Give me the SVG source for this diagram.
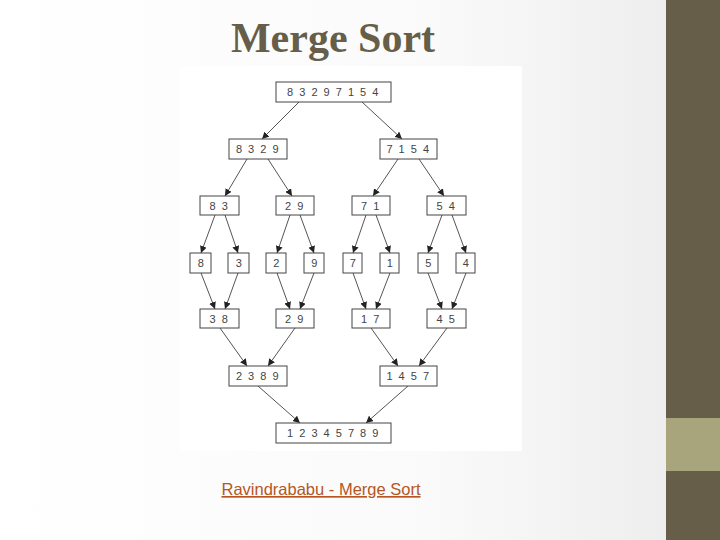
<svg xmlns="http://www.w3.org/2000/svg" width="720" height="540" viewBox="0 0 720 540">
<defs>
<linearGradient id="bg" x1="0" y1="0" x2="1" y2="0">
<stop offset="0" stop-color="#ffffff"/><stop offset="0.6" stop-color="#fafafa"/><stop offset="1" stop-color="#ebebeb"/>
</linearGradient>
<marker id="ah" viewBox="0 0 10 10" refX="10" refY="5" markerWidth="7" markerHeight="7" orient="auto" markerUnits="userSpaceOnUse">
<path d="M0,0 L10,5 L0,10 z" fill="#222"/>
</marker>
<style>
.b{fill:#fff;stroke:#444;stroke-width:1}
.t{font-family:"Liberation Sans",Arial,sans-serif;font-size:11px;fill:#444;text-anchor:middle;letter-spacing:1.5px}
#edges line{stroke:#555;stroke-width:1;marker-end:url(#ah)}
</style>
</defs>
<rect width="720" height="540" fill="url(#bg)"/>
<rect x="666" y="0" width="54" height="540" fill="#665e48"/>
<rect x="666" y="418" width="54" height="53" fill="#a8a57d"/>
<rect x="180" y="66" width="342" height="385" fill="#fff"/>
<text x="333" y="52" font-family="Liberation Serif,serif" font-weight="bold" font-size="42" fill="#665e48" text-anchor="middle">Merge Sort</text>
<text x="321" y="495" font-family="Liberation Sans,Arial,sans-serif" font-size="16.5" fill="#b5561f" text-anchor="middle" text-decoration="underline">Ravindrababu - Merge Sort</text>
<g id="edges">
<line x1="299" y1="102" x2="262" y2="139"/>
<line x1="362" y1="102" x2="402" y2="139"/>
<line x1="247" y1="159" x2="225" y2="196"/>
<line x1="268" y1="159" x2="292" y2="196"/>
<line x1="398" y1="159" x2="373" y2="196"/>
<line x1="419" y1="159" x2="444" y2="196"/>
<line x1="215" y1="215" x2="201" y2="253"/>
<line x1="225" y1="215" x2="238" y2="253"/>
<line x1="290" y1="215" x2="277" y2="253"/>
<line x1="300" y1="215" x2="314" y2="253"/>
<line x1="366" y1="215" x2="353" y2="253"/>
<line x1="376" y1="215" x2="390" y2="253"/>
<line x1="442" y1="215" x2="428" y2="253"/>
<line x1="452" y1="215" x2="466" y2="253"/>
<line x1="201" y1="273" x2="215" y2="309"/>
<line x1="238" y1="273" x2="225" y2="309"/>
<line x1="277" y1="273" x2="290" y2="309"/>
<line x1="314" y1="273" x2="300" y2="309"/>
<line x1="353" y1="273" x2="366" y2="309"/>
<line x1="390" y1="273" x2="376" y2="309"/>
<line x1="428" y1="273" x2="442" y2="309"/>
<line x1="466" y1="273" x2="452" y2="309"/>
<line x1="220" y1="328" x2="247" y2="366"/>
<line x1="295" y1="328" x2="268" y2="366"/>
<line x1="371" y1="328" x2="398" y2="366"/>
<line x1="447" y1="328" x2="419" y2="366"/>
<line x1="258" y1="386" x2="300" y2="423"/>
<line x1="408" y1="386" x2="366" y2="423"/>
</g>
<g id="n0"><rect class="b" x="276" y="82" width="115" height="20"/><text class="t" x="333.5" y="96">8 3 2 9 7 1 5 4</text></g>
<g id="n1"><rect class="b" x="229" y="139" width="58" height="20"/><text class="t" x="258" y="153">8 3 2 9</text></g>
<g id="n2"><rect class="b" x="380" y="139" width="57" height="20"/><text class="t" x="408.5" y="153">7 1 5 4</text></g>
<g id="n3"><rect class="b" x="200" y="196" width="39" height="19"/><text class="t" x="219.5" y="209.5">8 3</text></g>
<g id="n4"><rect class="b" x="276" y="196" width="38" height="19"/><text class="t" x="295" y="209.5">2 9</text></g>
<g id="n5"><rect class="b" x="352" y="196" width="38" height="19"/><text class="t" x="371" y="209.5">7 1</text></g>
<g id="n6"><rect class="b" x="427" y="196" width="39" height="19"/><text class="t" x="446.5" y="209.5">5 4</text></g>
<g id="n7"><rect class="b" x="190" y="253" width="21" height="20"/><text class="t" x="201.5" y="267">8</text></g>
<g id="n8"><rect class="b" x="228" y="253" width="21" height="20"/><text class="t" x="239.5" y="267">3</text></g>
<g id="n9"><rect class="b" x="266" y="253" width="20" height="20"/><text class="t" x="277" y="267">2</text></g>
<g id="n10"><rect class="b" x="304" y="253" width="20" height="20"/><text class="t" x="315" y="267">9</text></g>
<g id="n11"><rect class="b" x="343" y="253" width="19" height="20"/><text class="t" x="353.5" y="267">7</text></g>
<g id="n12"><rect class="b" x="380" y="253" width="19" height="20"/><text class="t" x="390.5" y="267">1</text></g>
<g id="n13"><rect class="b" x="418" y="253" width="20" height="20"/><text class="t" x="429" y="267">5</text></g>
<g id="n14"><rect class="b" x="456" y="253" width="19" height="20"/><text class="t" x="466.5" y="267">4</text></g>
<g id="n15"><rect class="b" x="200" y="309" width="39" height="19"/><text class="t" x="219.5" y="322.5">3 8</text></g>
<g id="n16"><rect class="b" x="276" y="309" width="38" height="19"/><text class="t" x="295" y="322.5">2 9</text></g>
<g id="n17"><rect class="b" x="352" y="309" width="38" height="19"/><text class="t" x="371" y="322.5">1 7</text></g>
<g id="n18"><rect class="b" x="427" y="309" width="39" height="19"/><text class="t" x="446.5" y="322.5">4 5</text></g>
<g id="n19"><rect class="b" x="229" y="366" width="58" height="20"/><text class="t" x="258" y="380">2 3 8 9</text></g>
<g id="n20"><rect class="b" x="380" y="366" width="57" height="20"/><text class="t" x="408.5" y="380">1 4 5 7</text></g>
<g id="n21"><rect class="b" x="276" y="423" width="115" height="20"/><text class="t" x="333.5" y="437">1 2 3 4 5 7 8 9</text></g>
</svg>
